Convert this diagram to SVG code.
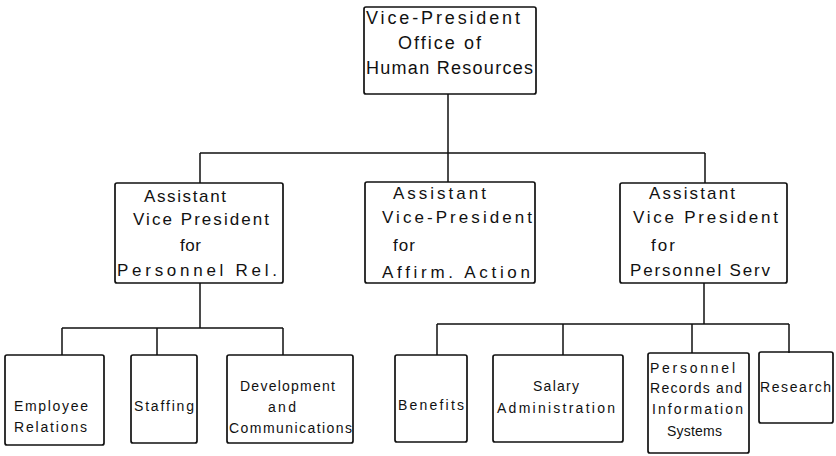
<svg xmlns="http://www.w3.org/2000/svg" width="836" height="456" viewBox="0 0 836 456">
<style>
.box{fill:none;stroke:#111;stroke-width:1.7}
.con{fill:none;stroke:#111;stroke-width:1.5}
text{font-family:"Liberation Sans",Arial,sans-serif;fill:#111}
.l{font-size:18px}
.m{font-size:17px}
.s{font-size:14px}
</style>
<rect width="836" height="456" fill="#fff"/>
<g id="connectors">
<path class="con" d="M448 94V153M200 153H705M200 153V183M448 153V182M705 153V183"/>
<path class="con" d="M200 283V328M62 328H283M62 328V355M157 328V355M283 328V355"/>
<path class="con" d="M704 283V324M437 324H789M437 324V355M563 324V355M692 324V353M789 324V353"/>
</g>
<g id="vp">
<rect class="box" x="364" y="7" width="172" height="87" rx="2"/>
<text class="l" x="366" y="24" textLength="154" lengthAdjust="spacing">Vice-President</text>
<text class="l" x="398" y="49" textLength="83" lengthAdjust="spacing">Office of</text>
<text class="l" x="366" y="74" textLength="167" lengthAdjust="spacing">Human Resources</text>
</g>
<g id="avp-rel">
<rect class="box" x="115" y="183" width="168" height="100" rx="2"/>
<text class="m" x="144" y="202" textLength="82" lengthAdjust="spacing">Assistant</text>
<text class="m" x="133" y="225" textLength="136" lengthAdjust="spacing">Vice President</text>
<text class="m" x="180" y="251" textLength="21" lengthAdjust="spacing">for</text>
<text class="m" x="117" y="276" textLength="160" lengthAdjust="spacing">Personnel Rel.</text>
</g>
<g id="avp-aa">
<rect class="box" x="365" y="182" width="170" height="101" rx="2"/>
<text class="m" x="393" y="199" textLength="93" lengthAdjust="spacing">Assistant</text>
<text class="m" x="382" y="223" textLength="150" lengthAdjust="spacing">Vice-President</text>
<text class="m" x="393" y="251" textLength="22" lengthAdjust="spacing">for</text>
<text class="m" x="382" y="278" textLength="148" lengthAdjust="spacing">Affirm. Action</text>
</g>
<g id="avp-serv">
<rect class="box" x="620" y="183" width="167" height="100" rx="2"/>
<text class="m" x="649" y="199" textLength="86" lengthAdjust="spacing">Assistant</text>
<text class="m" x="633" y="223" textLength="145" lengthAdjust="spacing">Vice President</text>
<text class="m" x="651" y="251" textLength="24" lengthAdjust="spacing">for</text>
<text class="m" x="630" y="276" textLength="140" lengthAdjust="spacing">Personnel Serv</text>
</g>
<g id="employee-relations">
<rect class="box" x="5" y="355" width="99" height="90" rx="2"/>
<text class="s" x="14" y="411" textLength="74" lengthAdjust="spacing">Employee</text>
<text class="s" x="14" y="432" textLength="73" lengthAdjust="spacing">Relations</text>
</g>
<g id="staffing">
<rect class="box" x="131" y="355" width="66" height="88" rx="2"/>
<text class="s" x="134" y="411" textLength="60" lengthAdjust="spacing">Staffing</text>
</g>
<g id="development">
<rect class="box" x="227" y="355" width="126" height="88" rx="2"/>
<text class="s" x="240" y="391" textLength="95" lengthAdjust="spacing">Development</text>
<text class="s" x="268" y="412" textLength="28" lengthAdjust="spacing">and</text>
<text class="s" x="229" y="433" textLength="123" lengthAdjust="spacing">Communications</text>
</g>
<g id="benefits">
<rect class="box" x="395" y="355" width="72" height="87" rx="2"/>
<text class="s" x="398" y="410" textLength="66" lengthAdjust="spacing">Benefits</text>
</g>
<g id="salary">
<rect class="box" x="493" y="355" width="130" height="87" rx="2"/>
<text class="s" x="533" y="391" textLength="46" lengthAdjust="spacing">Salary</text>
<text class="s" x="497" y="413" textLength="118" lengthAdjust="spacing">Administration</text>
</g>
<g id="records">
<rect class="box" x="648" y="353" width="101" height="100" rx="2"/>
<text class="s" x="650" y="373" textLength="85" lengthAdjust="spacing">Personnel</text>
<text class="s" x="650" y="393" textLength="92" lengthAdjust="spacing">Records and</text>
<text class="s" x="652" y="414" textLength="91" lengthAdjust="spacing">Information</text>
<text class="s" x="667" y="436" textLength="55" lengthAdjust="spacing">Systems</text>
</g>
<g id="research">
<rect class="box" x="759" y="352" width="74" height="71" rx="2"/>
<text class="s" x="760" y="392" textLength="71" lengthAdjust="spacing">Research</text>
</g>
</svg>
